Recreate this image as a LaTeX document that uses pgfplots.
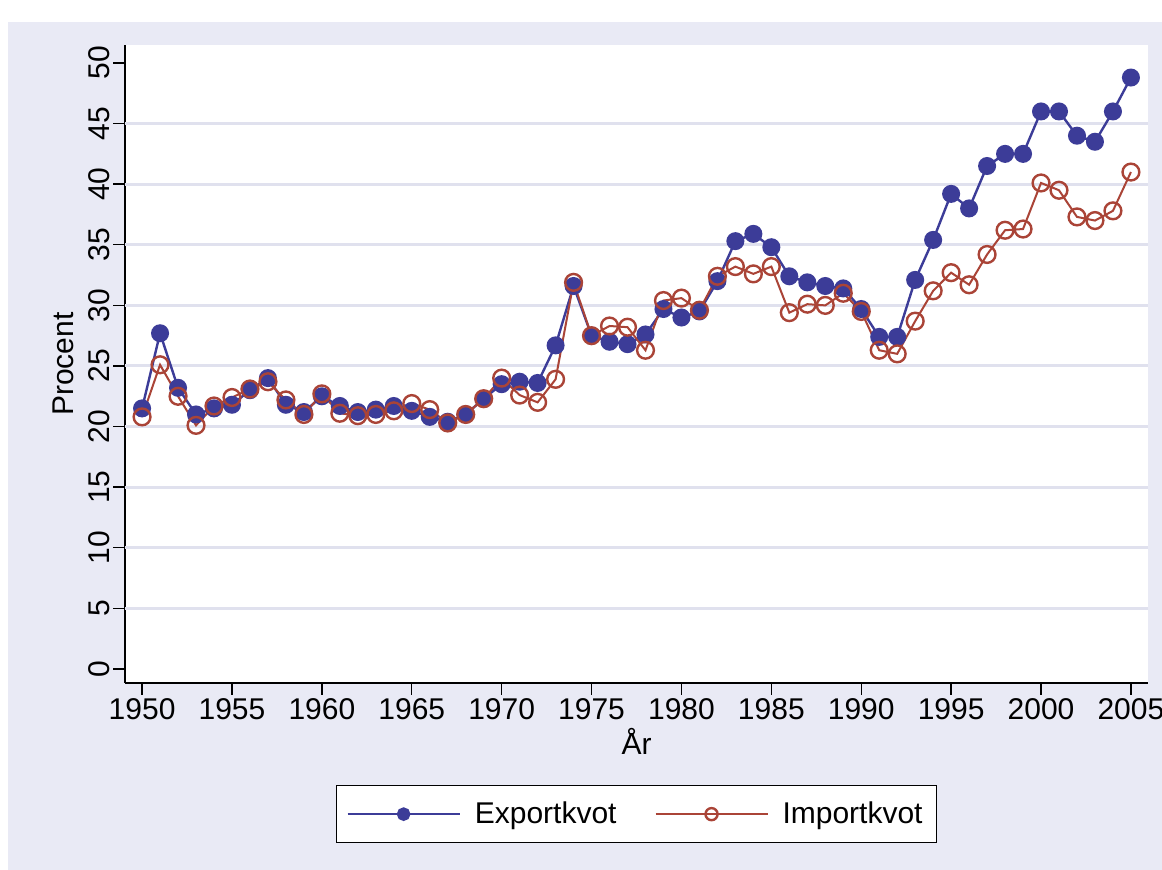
\documentclass[border=0pt]{standalone}
\usepackage{fontspec}
\setmainfont{Liberation Sans}
\usepackage{pgfplots}
\usepackage{pgfplotstable}
\pgfplotsset{compat=1.18}

\definecolor{bgcol}{RGB}{233,234,245}
\definecolor{gridcol}{RGB}{224,225,238}
\definecolor{expcol}{RGB}{60,60,152}
\definecolor{impcol}{RGB}{170,68,55}

% year, exportkvot, importkvot (procent)
\pgfplotstableread{
year exp imp
1950 21.5 20.8
1951 27.7 25.1
1952 23.2 22.5
1953 21.0 20.1
1954 21.5 21.7
1955 21.8 22.4
1956 23.0 23.1
1957 24.0 23.7
1958 21.8 22.2
1959 21.2 21.0
1960 22.5 22.7
1961 21.7 21.1
1962 21.2 20.9
1963 21.4 21.0
1964 21.7 21.3
1965 21.3 21.9
1966 20.8 21.4
1967 20.4 20.3
1968 21.0 21.0
1969 22.3 22.3
1970 23.5 24.0
1971 23.7 22.6
1972 23.6 22.0
1973 26.7 23.9
1974 31.6 31.9
1975 27.5 27.5
1976 27.0 28.3
1977 26.8 28.2
1978 27.6 26.3
1979 29.7 30.4
1980 29.0 30.6
1981 29.5 29.6
1982 32.0 32.4
1983 35.3 33.2
1984 35.9 32.6
1985 34.8 33.2
1986 32.4 29.4
1987 31.9 30.1
1988 31.6 30.0
1989 31.4 31.0
1990 29.7 29.5
1991 27.4 26.3
1992 27.4 26.0
1993 32.1 28.7
1994 35.4 31.2
1995 39.2 32.7
1996 38.0 31.7
1997 41.5 34.2
1998 42.5 36.2
1999 42.5 36.3
2000 46.0 40.1
2001 46.0 39.5
2002 44.0 37.3
2003 43.5 37.0
2004 46.0 37.8
2005 48.8 41.0
}\kvot

\begin{document}
\begin{tikzpicture}[x=1pt,y=1pt]
\path[use as bounding box] (0,0) rectangle (581,435);
\fill[white] (0,0) rectangle (581,435);
\fill[bgcol] (4,0) rectangle (581,424);
\begin{axis}[
  at={(62.5pt,93.5pt)}, anchor=south west,
  scale only axis, width=511.5pt, height=319pt,
  axis background/.style={fill=white},
  axis x line*=bottom, axis y line*=left,
  axis line style={black, line width=0.9pt},
  xmin=1949.05, xmax=2005.95,
  ymin=-1.155, ymax=51.485,
  xtick={1950,1955,...,2005},
  ytick={0,5,...,50},
  extra y ticks={5,10,...,45},
  extra y tick labels={},
  extra y tick style={ymajorgrids=true, major tick length=0pt},
  major grid style={gridcol, line width=1.5pt},
  tick align=outside,
  major tick length=6pt,
  tick style={black, line width=0.7pt},
  tick label style={font=\fontsize{15}{18}\selectfont, black},
  /pgf/number format/assume math mode=true,
  /pgf/number format/1000 sep={},
  xticklabel style={inner sep=1.5pt},
  yticklabel style={rotate=90, anchor=south, inner sep=1.5pt},
  xlabel={År},
  ylabel={Procent},
  label style={font=\fontsize{15}{18}\selectfont},
  xlabel style={at={(axis description cs:0.5,-0.07)}, anchor=north, inner sep=0pt},
  ylabel style={at={(axis description cs:-0.05,0.5)}, rotate=0, anchor=south, inner sep=0pt},
  legend columns=2,
  legend style={at={(0.5,-0.16)}, anchor=north, draw=black, line width=0.7pt,
    fill=white, font=\fontsize{15}{18}\selectfont, inner xsep=5pt, inner ysep=6pt,
    /tikz/every odd column/.append style={column sep=5pt},
    /tikz/every even column/.append style={column sep=17pt}},
  legend cell align=left,
  legend image code/.code={\draw[mark repeat=2, mark phase=2, #1,
    every mark/.append style={scale=0.72}]
    plot coordinates {(0pt,0pt) (28pt,0pt) (56pt,0pt)};},
]
\addplot[expcol, line width=1.2pt, mark=*, mark size=3.9pt,
  mark options={fill=expcol, draw=expcol}] table[x=year, y=exp] {\kvot};
\addlegendentry{Exportkvot}
\addplot[impcol, line width=1pt, mark=o, mark size=4.2pt,
  mark options={line width=1.2pt}] table[x=year, y=imp] {\kvot};
\addlegendentry{Importkvot}
\end{axis}
\end{tikzpicture}
\end{document}
